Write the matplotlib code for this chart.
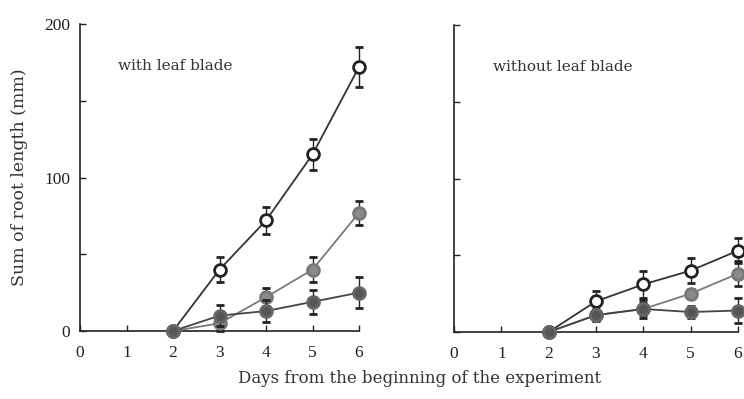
import matplotlib.pyplot as plt
import numpy as np

days = [2, 3, 4, 5, 6]

# with leaf blade
with_open = [0, 40, 72, 115, 172]
with_open_err = [0, 8, 9, 10, 13]
with_half = [0, 5, 22, 40, 77]
with_half_err = [0, 5, 6, 8, 8]
with_full = [0, 10, 13, 19, 25]
with_full_err = [0, 7, 7, 8, 10]

# without leaf blade
wo_open = [0, 20, 31, 40, 53]
wo_open_err = [0, 7, 9, 8, 8]
wo_half = [0, 11, 15, 25, 38]
wo_half_err = [0, 4, 4, 3, 8]
wo_full = [0, 11, 15, 13, 14]
wo_full_err = [0, 3, 6, 4, 8]

plt.rcParams['font.family'] = ['Liberation Serif', 'DejaVu Serif']

fig = plt.figure(figsize=(7.44, 3.99), dpi=100)
ax1 = fig.add_axes([80 / 744, 68 / 399, 279 / 744, 307 / 399])
ax2 = fig.add_axes([454 / 744, 67 / 399, 284 / 744, 307 / 399])


def draw_series(ax, y, err, face, edge, line, z):
    ax.errorbar(days, y, yerr=err, color=line, lw=1.3, ecolor='#222222',
                elinewidth=1.0, capsize=3, marker='o', ms=8.5, mfc=face,
                mec=edge, mew=2, clip_on=False, zorder=z)


for ax, sets, title in [
    (ax1, [(with_full, with_full_err), (with_half, with_half_err),
           (with_open, with_open_err)], 'with leaf blade'),
    (ax2, [(wo_full, wo_full_err), (wo_half, wo_half_err),
           (wo_open, wo_open_err)], 'without leaf blade'),
]:
    (f, fe), (h, he), (o, oe) = sets
    draw_series(ax, o, oe, 'white', '#222222', '#333333', 3)
    draw_series(ax, h, he, '#8a8a8a', '#777777', '#7a7a7a', 4)
    draw_series(ax, f, fe, '#555555', '#666666', '#444444', 5)

    ax.set_xlim(0, 6)
    ax.set_ylim(0, 200)
    ax.spines['top'].set_visible(False)
    ax.spines['right'].set_visible(False)
    ax.spines['left'].set_linewidth(1.2)
    ax.spines['bottom'].set_linewidth(1.2)
    ax.spines['left'].set_color('#222222')
    ax.spines['bottom'].set_color('#222222')
    ax.set_xticks(range(7))
    ax.set_yticks([0, 50, 100, 150, 200])
    ax.tick_params(axis='both', direction='in', length=4, width=1,
                   labelsize=12.5, colors='#222222', pad=7)
    ax.tick_params(axis='x', pad=10)
    ax.text(0.137, 0.85, title, transform=ax.transAxes, family='DejaVu Serif',
            fontsize=11, color='#333333', ha='left')

ax1.set_yticklabels(['0', '', '100', '', '200'])
ax2.set_yticklabels([])

ax1.set_ylabel('Sum of root length (mm)', fontsize=12.5, color='#333333',
               family='DejaVu Serif', labelpad=12)
fig.text(420 / 744, 0.04, 'Days from the beginning of the experiment',
         ha='center', fontsize=12, color='#333333', family='DejaVu Serif')

fig.savefig('out.png', dpi=100)
